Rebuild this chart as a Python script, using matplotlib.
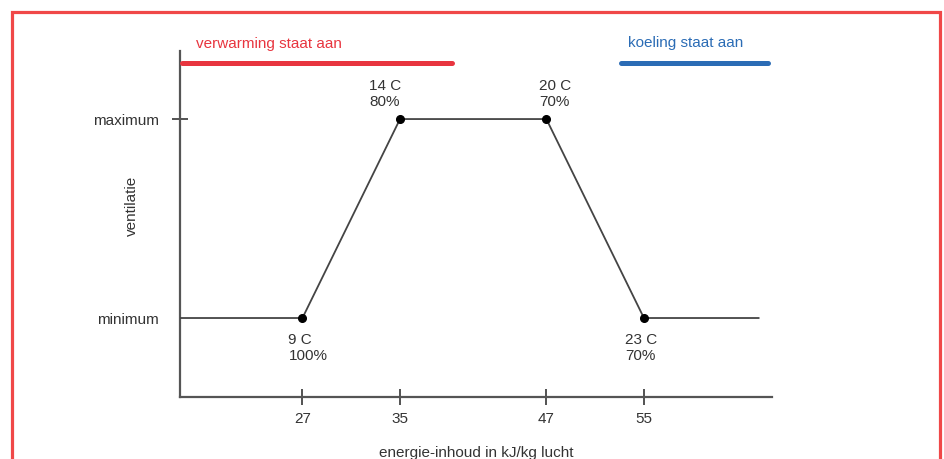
import matplotlib
matplotlib.use("Agg")
import matplotlib.pyplot as plt
from matplotlib.patches import Rectangle

plt.rcParams["font.family"] = ["Liberation Sans", "DejaVu Sans"]

# data
energy = [27, 35, 47, 55]                 # kJ/kg lucht
level = [0, 1, 1, 0]                      # 0 = minimum, 1 = maximum
point_labels = ["9 C\n100%", "14 C\n80%", "20 C\n70%", "23 C\n70%"]
line_start, line_end = 17.0, 64.4        # flat parts of the curve
heating_range = [17.1, 39.3]
cooling_range = [53.1, 65.2]
status_level = 1.28
y_ticks = [0, 1]
y_ticklabels = ["minimum", "maximum"]

TXT = "#333333"
AX = "#555555"
RED = "#e8353f"
BLUE = "#2b6cb5"


def draw(outfile="out.png"):
  fig = plt.figure(figsize=(9.44, 4.59), dpi=100)
  fig.patch.set_facecolor("white")

  # red frame round the picture
  fig.patches.append(Rectangle(
    (12 / 944, -0.05), (940 - 12) / 944, 1.05 - 11.5 / 459,
    transform=fig.transFigure, fill=False, ec="#f04848", lw=2.3,
  ))

  ax = fig.add_axes([180 / 944, 1 - 397 / 459, 592 / 944, 346 / 459])
  ax.set_xlim(16.96, 65.5)
  ax.set_ylim(-0.397, 1.342)
  for s in ("top", "right"):
    ax.spines[s].set_visible(False)
  for s in ("left", "bottom"):
    ax.spines[s].set_color(AX)
    ax.spines[s].set_linewidth(1.6)

  xs = [line_start] + energy + [line_end]
  ys = [level[0]] + level + [level[-1]]
  ax.plot(xs, ys, color="#444444", lw=1.3, zorder=3)
  ax.plot(energy, level, "o", color="black", ms=5.5, zorder=4)

  # point labels
  offsets = [(-14, -15, "top"), (-31, 10, "bottom"),
             (-7, 10, "bottom"), (-19, -15, "top")]
  for x, y, lab, (dx, dy, va) in zip(energy, level, point_labels, offsets):
    ax.annotate(lab, (x, y), xytext=(dx, dy), textcoords="offset pixels",
                ha="left", va=va, multialignment="left", fontsize=11,
                color=TXT, linespacing=1.2)

  # heating / cooling bars
  ax.plot(heating_range, [status_level] * 2, color=RED, lw=3.6,
          solid_capstyle="round", zorder=3)
  ax.plot(cooling_range, [status_level] * 2, color=BLUE, lw=3.6,
          solid_capstyle="round", zorder=3)
  ax.text(18.3, 1.375, "verwarming staat aan", color=RED, fontsize=11,
          ha="left", va="center")
  ax.text(53.7, 1.38, "koeling staat aan", color=BLUE, fontsize=11,
          ha="left", va="center")

  ax.set_xticks(energy)
  ax.set_xticklabels([str(e) for e in energy])
  ax.set_yticks(y_ticks)
  ax.set_yticklabels(y_ticklabels)
  ax.tick_params(axis="both", direction="inout", length=12, width=1.3,
                 color="#444444", labelcolor=TXT, labelsize=11)
  ax.tick_params(axis="x", pad=5)
  ax.tick_params(axis="y", pad=9)
  # the minimum tick is hidden behind the flat line in the original
  ax.yaxis.get_major_ticks()[0].tick1line.set_visible(False)

  ax.set_xlabel("energie-inhoud in kJ/kg lucht", fontsize=11, color=TXT,
                labelpad=14)
  ax.set_ylabel("ventilatie", fontsize=11, color=TXT)
  ax.yaxis.set_label_coords(-0.069, 0.552)

  fig.savefig(outfile, dpi=100, facecolor="white")
  plt.close(fig)


if __name__ == "__main__":
  draw("out.png")
